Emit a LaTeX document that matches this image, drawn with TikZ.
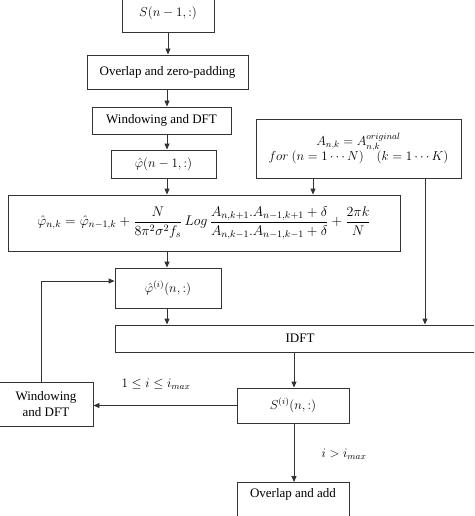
\RequirePackage{fix-cm}
\documentclass[tikz,border=0pt]{standalone}
\usepackage{amsmath}
\usepackage{fontspec}
\setmainfont{Liberation Serif}
\usetikzlibrary{arrows.meta,calc}
\tikzset{
  box/.style={draw=black!80, line width=0.9pt, rectangle, inner sep=2pt, align=center, font=\fontsize{13}{15}\selectfont},
  arr/.style={draw=black!80, line width=0.9pt, -{Triangle[length=6pt,width=5pt]}},
  lbl/.style={font=\fontsize{13}{15}\selectfont, inner sep=1pt},
}
\begin{document}
\begin{tikzpicture}[x=1pt,y=-1pt]
\useasboundingbox (0,0) rectangle (474,516);
\clip (0,0) rectangle (474,516);
\fill[white] (0,0) rectangle (474,516);
\coordinate (col) at (167,0);
\coordinate (loopx) at (41,0);
\coordinate (ax1) at (313,0);
\coordinate (ax2) at (425,0);
\coordinate (ix) at (294,0);
\node[box, minimum width=92pt, minimum height=38pt] (s0) at (168,13) {$S(n-1,:)$};
\node[box, minimum width=161pt, minimum height=34pt] (ov) at (167.5,72) {Overlap and zero-padding};
\node[box, minimum width=139pt, minimum height=27pt] (win) at (161.5,120.5) {Windowing and DFT};
\node[box, minimum width=105pt, minimum height=28pt] (phi0) at (163.5,164) {$\hat{\varphi}(n-1,:)$};
\node[box, minimum width=205pt, minimum height=59pt] (A) at (358.5,148.5) {$A_{n,k}=A_{n,k}^{original}$\\[-1pt] $for\ (n=1\cdots N)\quad (k=1\cdots K)$};
\node[box, minimum width=392pt, minimum height=56pt, font=\fontsize{14}{16}\selectfont] (F) at (204,223) {$\displaystyle \hat{\varphi}_{n,k}=\hat{\varphi}_{n-1,k}+\frac{N}{8\pi^2\sigma^2 f_s}\,Log\,\frac{A_{n,k+1}.A_{n-1,k+1}+\delta}{A_{n,k-1}.A_{n-1,k-1}+\delta}+\frac{2\pi k}{N}$};
\node[box, minimum width=106pt, minimum height=40pt] (phii) at (168,288) {$\hat{\varphi}^{(i)}(n,:)$};
\node[box, minimum width=370pt, minimum height=27pt] (idft) at (300,338.5) {IDFT};
\node[box, minimum width=112pt, minimum height=35pt] (si) at (293,405.5) {$S^{(i)}(n,:)$};
\node[box, minimum width=94pt, minimum height=44pt, inner sep=1pt] (win2) at (46,404) {Windowing\\[1pt]and DFT};
\node[box, minimum width=112pt, anchor=north, inner ysep=6pt, text depth=24pt] (oa) at (293,482) {Overlap and add};
\node[lbl] (l1) at (156,384) {$1\le i\le i_{max}$};
\node[lbl] (l2) at (344,454) {$i>i_{max}$};
\draw[arr] (s0.south) -- (ov.north -| s0.south);
\draw[arr] (ov.south -| col) -- (win.north -| col);
\draw[arr] (win.south -| col) -- (phi0.north -| col);
\draw[arr] (phi0.south -| col) -- (F.north -| col);
\draw[arr] (A.south -| ax1) -- (F.north -| ax1);
\draw[arr] (A.south -| ax2) -- (idft.north -| ax2);
\draw[arr] (F.south -| col) -- (phii.north -| col);
\draw[arr] (phii.south -| col) -- (idft.north -| col);
\draw[arr] (idft.south -| ix) -- (si.north -| ix);
\draw[arr] (si.west) -- (win2.east |- si.west);
\draw[arr] (win2.north -| loopx) |- ($(phii.west)+(0,-7)$);
\draw[arr] (si.south -| ix) -- (oa.north -| ix);
\end{tikzpicture}
\end{document}
